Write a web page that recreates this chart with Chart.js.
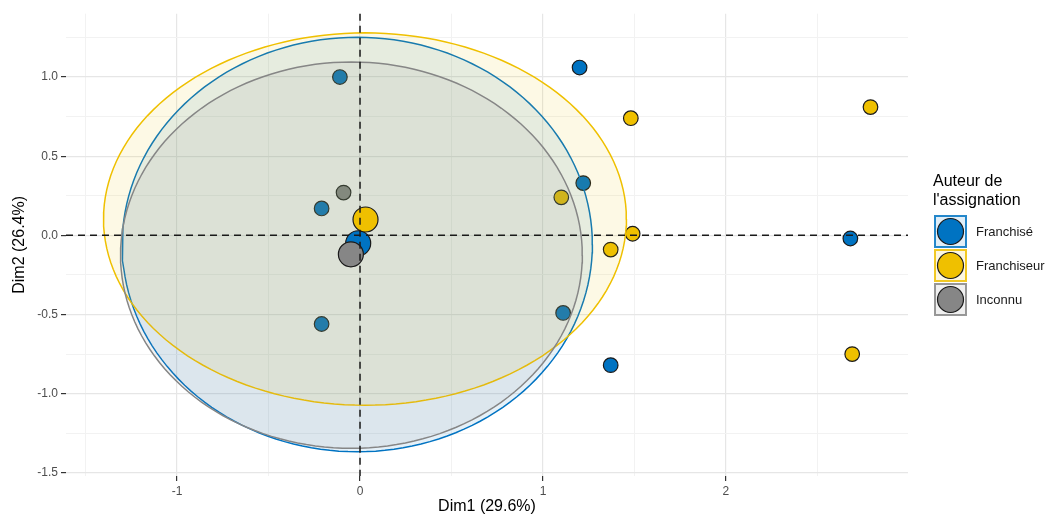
<!DOCTYPE html>
<html><head><meta charset="utf-8">
<script src="https://cdn.jsdelivr.net/npm/chart.js@4/dist/chart.umd.min.js"></script>
<style>html,body{margin:0;padding:0;background:#fff}#wrap{width:1048px;height:515px;position:relative}</style>
</head><body><div id="wrap"><canvas id="c" width="1048" height="515"></canvas></div>
<script>
// ---------- data ----------
const groups = ['Franchisé', 'Franchiseur', 'Inconnu'];
const groupColors = ['#0073C2', '#EFC000', '#868686'];
const legendTitle = ['Auteur de', "l'assignation"];
const xTitle = 'Dim1 (29.6%)';
const yTitle = 'Dim2 (26.4%)';

const franchiseX = [-0.11, 1.20, 1.22, -0.21, -0.21, 1.11, 1.37, 2.68];
const franchiseY = [1.00, 1.06, 0.33, 0.17, -0.56, -0.49, -0.82, -0.02];
const franchiseurX = [1.48, 2.79, 1.10, 1.49, 1.37, 2.69];
const franchiseurY = [0.74, 0.81, 0.24, 0.01, -0.09, -0.75];
const inconnuX = [-0.09];
const inconnuY = [0.27];

const meanX = [-0.01, 0.03, -0.05];
const meanY = [-0.05, 0.10, -0.12];

const ellipseCx = [-0.015, 0.027, -0.047];
const ellipseCy = [-0.058, 0.103, -0.125];
const ellipseRx = [1.285, 1.429, 1.262];
const ellipseRy = [1.309, 1.176, 1.220];

const xMajorTicks = [-1, 0, 1, 2];
const xTickLabels = ['-1', '0', '1', '2'];
const xMinorTicks = [-1.5, -0.5, 0.5, 1.5, 2.5];
const yMajorTicks = [-1.5, -1.0, -0.5, 0.0, 0.5, 1.0];
const yTickLabels = ['-1.5', '-1.0', '-0.5', '0.0', '0.5', '1.0'];
const yMinorTicks = [-1.25, -0.75, -0.25, 0.25, 0.75, 1.25];

const xRange = [-1.607, 2.995];
const yRange = [-1.52, 1.40];
// ---------- end data ----------

const FONT = '"Liberation Sans", Arial, sans-serif';
function rgba(hex, a) {
  const n = parseInt(hex.slice(1), 16);
  return `rgba(${(n >> 16) & 255},${(n >> 8) & 255},${n & 255},${a})`;
}
const pts = (xs, ys) => xs.map((x, i) => ({x, y: ys[i]}));
function ellipse(i) {
  const out = [];
  const N = 160;
  for (let k = 0; k <= N; k++) {
    const t = 2 * Math.PI * k / N;
    out.push({x: ellipseCx[i] + ellipseRx[i] * Math.cos(t), y: ellipseCy[i] + ellipseRy[i] * Math.sin(t)});
  }
  return out;
}
const indiv = [pts(franchiseX, franchiseY), pts(franchiseurX, franchiseurY), pts(inconnuX, inconnuY)];

const datasets = [];
groups.forEach((g, i) => {
  datasets.push({
    type: 'scatter', label: g, data: indiv[i], order: 30 - i,
    backgroundColor: groupColors[i], borderColor: '#1a1a1a', borderWidth: 1.2,
    pointRadius: 7.3, pointHoverRadius: 7.3
  });
});
[2, 1, 0].forEach((i) => {
  datasets.push({
    type: 'line', label: groups[i] + ' ellipse', data: ellipse(i), order: 20 - i,
    borderColor: groupColors[i], backgroundColor: rgba(groupColors[i], 0.1),
    borderWidth: 1.5, pointRadius: 0, tension: 0, fill: 'shape'
  });
});
groups.forEach((g, i) => {
  datasets.push({
    type: 'scatter', label: g + ' mean', data: [{x: meanX[i], y: meanY[i]}], order: 10 - i,
    backgroundColor: groupColors[i], borderColor: '#1a1a1a', borderWidth: 1.2,
    pointRadius: 12.5, pointHoverRadius: 12.5
  });
});

const isIn = (arr, v) => arr.some(a => Math.abs(a - v) < 1e-9);

const refLines = {
  id: 'refLines',
  afterDatasetsDraw(chart) {
    const {ctx, chartArea: a, scales: {x, y}} = chart;
    ctx.save();
    ctx.strokeStyle = '#1a1a1a';
    ctx.lineWidth = 1.5;
    ctx.setLineDash([7, 5]);
    const px = x.getPixelForValue(0), py = y.getPixelForValue(0);
    ctx.beginPath(); ctx.moveTo(px, a.top); ctx.lineTo(px, a.bottom); ctx.stroke();
    ctx.beginPath(); ctx.moveTo(a.left, py); ctx.lineTo(a.right, py); ctx.stroke();
    ctx.restore();
  }
};

const legendPlugin = {
  id: 'customLegend',
  afterDraw(chart) {
    const ctx = chart.ctx;
    ctx.save();
    ctx.fillStyle = '#000';
    ctx.font = `16px ${FONT}`;
    ctx.textAlign = 'left';
    ctx.textBaseline = 'alphabetic';
    ctx.fillText(legendTitle[0], 933, 186);
    ctx.fillText(legendTitle[1], 933, 205);
    groups.forEach((g, i) => {
      const top = 216 + i * 34, left = 935, size = 31;
      ctx.fillStyle = rgba(groupColors[i], 0.12);
      ctx.fillRect(left, top, size, size);
      ctx.strokeStyle = rgba(groupColors[i], 0.85);
      ctx.lineWidth = 2;
      ctx.strokeRect(left, top, size, size);
      ctx.beginPath();
      ctx.arc(left + size / 2, top + size / 2, 13, 0, Math.PI * 2);
      ctx.fillStyle = groupColors[i];
      ctx.fill();
      ctx.strokeStyle = '#1a1a1a';
      ctx.lineWidth = 1.2;
      ctx.stroke();
      ctx.fillStyle = '#1a1a1a';
      ctx.font = `13px ${FONT}`;
      ctx.textBaseline = 'middle';
      ctx.fillText(g, 976, top + size / 2 + 1);
    });
    ctx.restore();
  }
};

new Chart(document.getElementById('c'), {
  type: 'scatter',
  data: {datasets},
  options: {
    responsive: false, animation: false, events: [],
    layout: {padding: {left: 0, right: 140, top: 13, bottom: 0}},
    plugins: {legend: {display: false}, tooltip: {enabled: false}},
    scales: {
      x: {
        type: 'linear', min: xRange[0], max: xRange[1],
        afterBuildTicks: s => { s.ticks = [...xMajorTicks, ...xMinorTicks].sort((a, b) => a - b).map(v => ({value: v})); },
        afterFit: s => { s.height = 39; },
        ticks: {
          autoSkip: false, maxRotation: 0, padding: 3,
          font: {family: FONT, size: 12}, color: '#4d4d4d',
          callback: v => { const k = xMajorTicks.findIndex(a => Math.abs(a - v) < 1e-9); return k >= 0 ? xTickLabels[k] : ''; }
        },
        grid: {
          color: c => isIn(xMajorTicks, c.tick.value) ? '#e6e6e6' : '#f2f2f2',
          lineWidth: c => isIn(xMajorTicks, c.tick.value) ? 1.2 : 1,
          tickColor: c => isIn(xMajorTicks, c.tick.value) ? '#333333' : 'rgba(0,0,0,0)',
          tickLength: 5, drawTicks: true
        },
        border: {display: false},
        title: {display: true, text: xTitle, color: '#000', font: {family: FONT, size: 16, lineHeight: 1}, padding: {top: 0, bottom: 0}}
      },
      y: {
        type: 'linear', min: yRange[0], max: yRange[1],
        afterBuildTicks: s => { s.ticks = [...yMajorTicks, ...yMinorTicks].sort((a, b) => a - b).map(v => ({value: v})); },
        afterFit: s => { s.width = 66; },
        ticks: {
          autoSkip: false, padding: 3,
          font: {family: FONT, size: 12}, color: '#4d4d4d',
          callback: v => { const k = yMajorTicks.findIndex(a => Math.abs(a - v) < 1e-9); return k >= 0 ? yTickLabels[k] : ''; }
        },
        grid: {
          color: c => isIn(yMajorTicks, c.tick.value) ? '#e6e6e6' : '#f2f2f2',
          lineWidth: c => isIn(yMajorTicks, c.tick.value) ? 1.2 : 1,
          tickColor: c => isIn(yMajorTicks, c.tick.value) ? '#333333' : 'rgba(0,0,0,0)',
          tickLength: 5, drawTicks: true
        },
        border: {display: false},
        title: {display: true, text: yTitle, color: '#000', font: {family: FONT, size: 16, lineHeight: 1}, padding: {top: 12, bottom: 0}}
      }
    }
  },
  plugins: [refLines, legendPlugin]
});
</script></body></html>
